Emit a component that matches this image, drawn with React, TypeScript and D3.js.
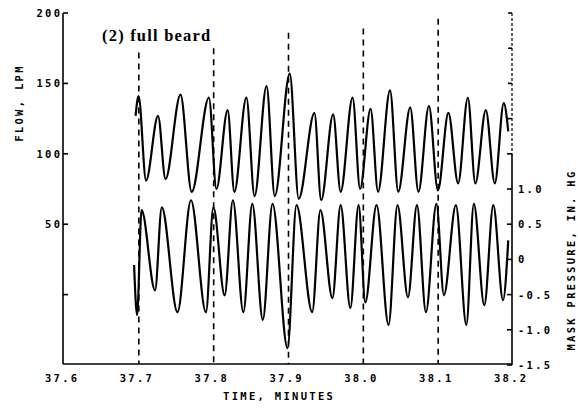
import React from "react";
import * as d3 from "d3";

// ---- data ----
const timeTicks = [37.6, 37.7, 37.8, 37.9, 38.0, 38.1, 38.2];
const timeTickLabels = ["37.6", "37.7", "37.8", "37.9", "38.0", "38.1", "38.2"];
const flowTicks = [200, 150, 100, 50, 0];
const flowTickLabels = ["200", "150", "100", "50", ""];
const pressureTicks = [3.5, 3.0, 2.5, 2.0, 1.5, 1.0, 0.5, 0, -0.5, -1.0, -1.5];
const pressureTickLabels = ["", "", "", "", "", "1.0", "0.5", "0", "-0.5", "-1.0", "-1.5"];

const markerTimes = [37.7, 37.8, 37.9, 38.0, 38.1];
const markerTopFlow = [172, 175, 186, 189, 196];

// flow (LPM), time in minutes
const flowTime = [
  37.697, 37.701, 37.711, 37.727, 37.737, 37.757, 37.772, 37.795, 37.805, 37.820,
  37.829, 37.845, 37.856, 37.872, 37.883, 37.903, 37.915, 37.936, 37.945, 37.961,
  37.971, 37.987, 37.997, 38.011, 38.021, 38.037, 38.048, 38.064, 38.075, 38.089,
  38.101, 38.115, 38.128, 38.141, 38.151, 38.165, 38.177, 38.189, 38.195,
];
const flowValue = [
  127, 141, 81, 127, 82, 142, 73, 140, 75, 131,
  73, 140, 70, 148, 70, 157, 68, 129, 67, 128,
  73, 140, 75, 132, 73, 145, 73, 133, 73, 134,
  74, 129, 79, 140, 79, 131, 79, 136, 116,
];

// mask pressure (in. Hg)
const pressureTime = [
  37.695, 37.699, 37.705, 37.723, 37.732, 37.753, 37.771, 37.791, 37.801, 37.816,
  37.827, 37.841, 37.853, 37.867, 37.880, 37.900, 37.912, 37.933, 37.944, 37.960,
  37.971, 37.984, 37.995, 38.004, 38.019, 38.035, 38.047, 38.061, 38.073, 38.085,
  38.099, 38.109, 38.125, 38.139, 38.149, 38.163, 38.175, 38.188, 38.195,
];
const pressureValue = [
  -0.08, -0.79, 0.70, -0.44, 0.74, -0.75, 0.84, -0.75, 0.74, -0.51,
  0.84, -0.75, 0.79, -0.86, 0.79, -1.26, 0.77, -0.75, 0.70, -0.55,
  0.77, -0.69, 0.77, -0.61, 0.77, -0.93, 0.77, -0.54, 0.77, -0.75,
  0.79, -0.51, 0.77, -0.93, 0.79, -0.65, 0.77, -0.58, 0.27,
];

const W = 578;
const H = 410;
const left = 63;
const right = 512;
const top = 13;
const bottom = 365;

export default function App() {
  const x = d3.scaleLinear().domain([37.6, 38.2]).range([left, right]);
  const yFlow = d3.scaleLinear().domain([-50, 200]).range([bottom, top]);
  const yP = d3.scaleLinear().domain([-1.5, 3.5]).range([bottom, top]);

  const flowPts: [number, number][] = flowTime.map((t, i) => [t, flowValue[i]]);
  const presPts: [number, number][] = pressureTime.map((t, i) => [t, pressureValue[i]]);

  const flowLine = d3
    .line<[number, number]>()
    .x((d) => x(d[0]))
    .y((d) => yFlow(d[1]))
    .curve(d3.curveMonotoneX);
  const presLine = d3
    .line<[number, number]>()
    .x((d) => x(d[0]))
    .y((d) => yP(d[1]))
    .curve(d3.curveMonotoneX);

  const mono = {
    fontFamily: "'DejaVu Sans Mono', monospace",
    fontSize: 10.5,
    fontWeight: 700 as const,
    letterSpacing: 2.3,
    fill: "#000",
  };

  const axisBottomY = 364;

  return (
    <svg
      width={W}
      height={H}
      style={{ position: "absolute", left: 0, top: 0, background: "#fff" }}
    >
      <rect x={0} y={0} width={W} height={H} fill="#fff" />

      {/* marker dashed lines */}
      {markerTimes.map((t, i) => (
        <line
          key={"m" + i}
          x1={x(t) + 1}
          x2={x(t) + 1}
          y1={yFlow(markerTopFlow[i])}
          y2={axisBottomY}
          stroke="#000"
          strokeWidth={1.6}
          strokeDasharray="6,5"
        />
      ))}

      {/* data */}
      <path d={flowLine(flowPts) || ""} fill="none" stroke="#000" strokeWidth={2.2} strokeLinejoin="round" />
      <path d={presLine(presPts) || ""} fill="none" stroke="#000" strokeWidth={2.2} strokeLinejoin="round" />

      {/* left axis */}
      <line x1={left} x2={left} y1={top} y2={axisBottomY} stroke="#000" strokeWidth={1.6} />
      {flowTicks.map((v, i) => (
        <g key={"fl" + i}>
          <line x1={left} x2={left + 5} y1={yFlow(v)} y2={yFlow(v)} stroke="#000" strokeWidth={1.6} />
          <text x={left - 3 + 2.3} y={yFlow(v) + 4} textAnchor="end" {...mono}>
            {flowTickLabels[i]}
          </text>
        </g>
      ))}

      {/* bottom axis */}
      <line x1={left} x2={right} y1={axisBottomY} y2={axisBottomY} stroke="#000" strokeWidth={1.6} />
      {timeTicks.map((t, i) => (
        <text key={"tt" + i} x={x(t) - 2 + 1.15} y={382} textAnchor="middle" {...mono}>
          {timeTickLabels[i]}
        </text>
      ))}
      <text x={278 + 1.15} y={400} textAnchor="middle" {...mono}>
        TIME, MINUTES
      </text>

      {/* right axis */}
      <line x1={right} x2={right} y1={top} y2={yP(1.5)} stroke="#000" strokeWidth={1.2} strokeDasharray="3,2" />
      <line x1={right} x2={right} y1={yP(1.5)} y2={bottom} stroke="#000" strokeWidth={1.6} />
      {pressureTicks.map((v, i) => (
        <g key={"pt" + i}>
          <line
            x1={right - (v > 1.9 ? 4 : 5)}
            x2={right}
            y1={yP(v)}
            y2={yP(v)}
            stroke="#000"
            strokeWidth={1.6}
          />
          {pressureTickLabels[i] !== "" && (
            <text x={518} y={yP(v) + 4} textAnchor="start" {...mono}>
              {pressureTickLabels[i]}
            </text>
          )}
        </g>
      ))}

      {/* axis titles */}
      <text transform={`translate(23, 103) rotate(-90)`} textAnchor="middle" {...mono}>
        FLOW, LPM
      </text>
      <text transform={`translate(575, 260) rotate(-90)`} textAnchor="middle" {...mono}>
        MASK PRESSURE, IN. HG
      </text>

      {/* annotation */}
      <text
        x={102}
        y={41}
        fontFamily="'Liberation Serif', 'DejaVu Serif', serif"
        fontWeight={700}
        fontSize={16.5}
        letterSpacing={1.2}
        fill="#000"
      >
        (2) full beard
      </text>
    </svg>
  );
}
